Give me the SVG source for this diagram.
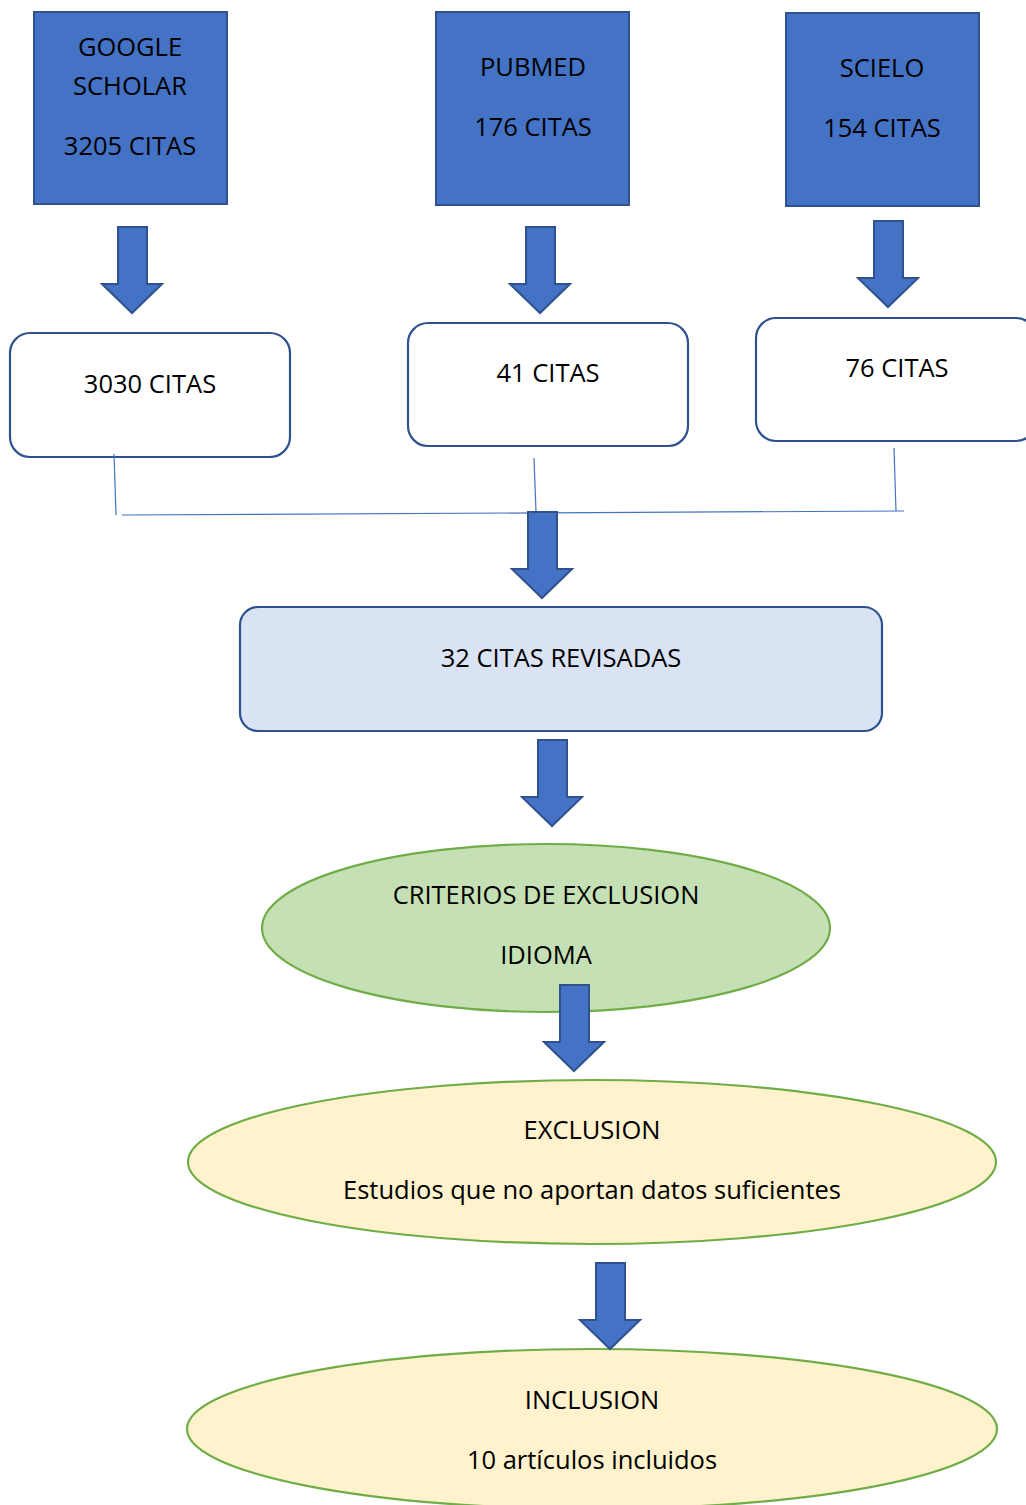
<svg xmlns="http://www.w3.org/2000/svg" width="1026" height="1505" viewBox="0 0 1026 1505">
<style>
.src{fill:#4472C4;stroke:#2F528F;stroke-width:2}
.rbox{fill:#FFFFFF;stroke:#2F528F;stroke-width:2.2}
.rev{fill:#DAE3F3;stroke:#2F528F;stroke-width:2.2}
.ovg{fill:#C5E0B4;stroke:#70AD47;stroke-width:2.2}
.ovy{fill:#FFF2CC;stroke:#70AD47;stroke-width:2.2}
.arr{fill:#4472C4;stroke:#2F528F;stroke-width:2;stroke-linejoin:miter}
.ln{stroke:#4472C4;stroke-width:1.2;fill:none}
text{font-family:"Open Sans","Liberation Sans",Arial,sans-serif;font-size:25.5px;fill:#000;text-anchor:middle}
</style>
<defs>
<path id="barrow" d="M-14,0 H15 V57 H30 L0,86 L-30,57 H-14 Z"/>
</defs>
<g id="google">
<rect class="src" x="34" y="12" width="193" height="192"/>
<text x="130" y="56">GOOGLE</text>
<text x="130" y="95">SCHOLAR</text>
<text x="130" y="155">3205 CITAS</text>
</g>
<g id="pubmed">
<rect class="src" x="436" y="12" width="193" height="193"/>
<text x="533" y="76">PUBMED</text>
<text x="533" y="136">176 CITAS</text>
</g>
<g id="scielo">
<rect class="src" x="786" y="13" width="193" height="193"/>
<text x="882" y="77">SCIELO</text>
<text x="882" y="137">154 CITAS</text>
</g>
<g id="r3030">
<rect class="rbox" x="10" y="333" width="280" height="124" rx="20"/>
<text x="150" y="393">3030 CITAS</text>
</g>
<g id="r41">
<rect class="rbox" x="408" y="323" width="280" height="123" rx="20"/>
<text x="548" y="382">41 CITAS</text>
</g>
<g id="r76">
<rect class="rbox" x="756" y="318" width="280" height="123" rx="20"/>
<text x="897" y="377">76 CITAS</text>
</g>
<g id="revisadas">
<rect class="rev" x="240" y="607" width="642" height="124" rx="18"/>
<text x="561" y="667">32 CITAS REVISADAS</text>
</g>
<g id="criterios">
<ellipse class="ovg" cx="546" cy="928" rx="284" ry="84"/>
<text x="546" y="904">CRITERIOS DE EXCLUSION</text>
<text x="546" y="964">IDIOMA</text>
</g>
<g id="exclusion">
<ellipse class="ovy" cx="592" cy="1162" rx="404" ry="82"/>
<text x="592" y="1139">EXCLUSION</text>
<text x="592" y="1199">Estudios que no aportan datos suficientes</text>
</g>
<g id="inclusion">
<ellipse class="ovy" cx="592" cy="1429" rx="405" ry="80"/>
<text x="592" y="1409">INCLUSION</text>
<text x="592" y="1469">10 artículos incluidos</text>
</g>
<g id="connectors">
<line class="ln" x1="114" y1="454" x2="116" y2="515"/>
<line class="ln" x1="534" y1="458" x2="536" y2="512"/>
<line class="ln" x1="894" y1="448" x2="896" y2="511"/>
<line class="ln" x1="122" y1="515" x2="904" y2="511"/>
<use href="#barrow" class="arr" x="132" y="227"/>
<use href="#barrow" class="arr" x="540" y="227"/>
<use href="#barrow" class="arr" x="888" y="221"/>
<use href="#barrow" class="arr" x="542" y="512"/>
<use href="#barrow" class="arr" x="552" y="740"/>
<use href="#barrow" class="arr" x="574" y="985"/>
<use href="#barrow" class="arr" x="610" y="1263"/>
</g>
</svg>
